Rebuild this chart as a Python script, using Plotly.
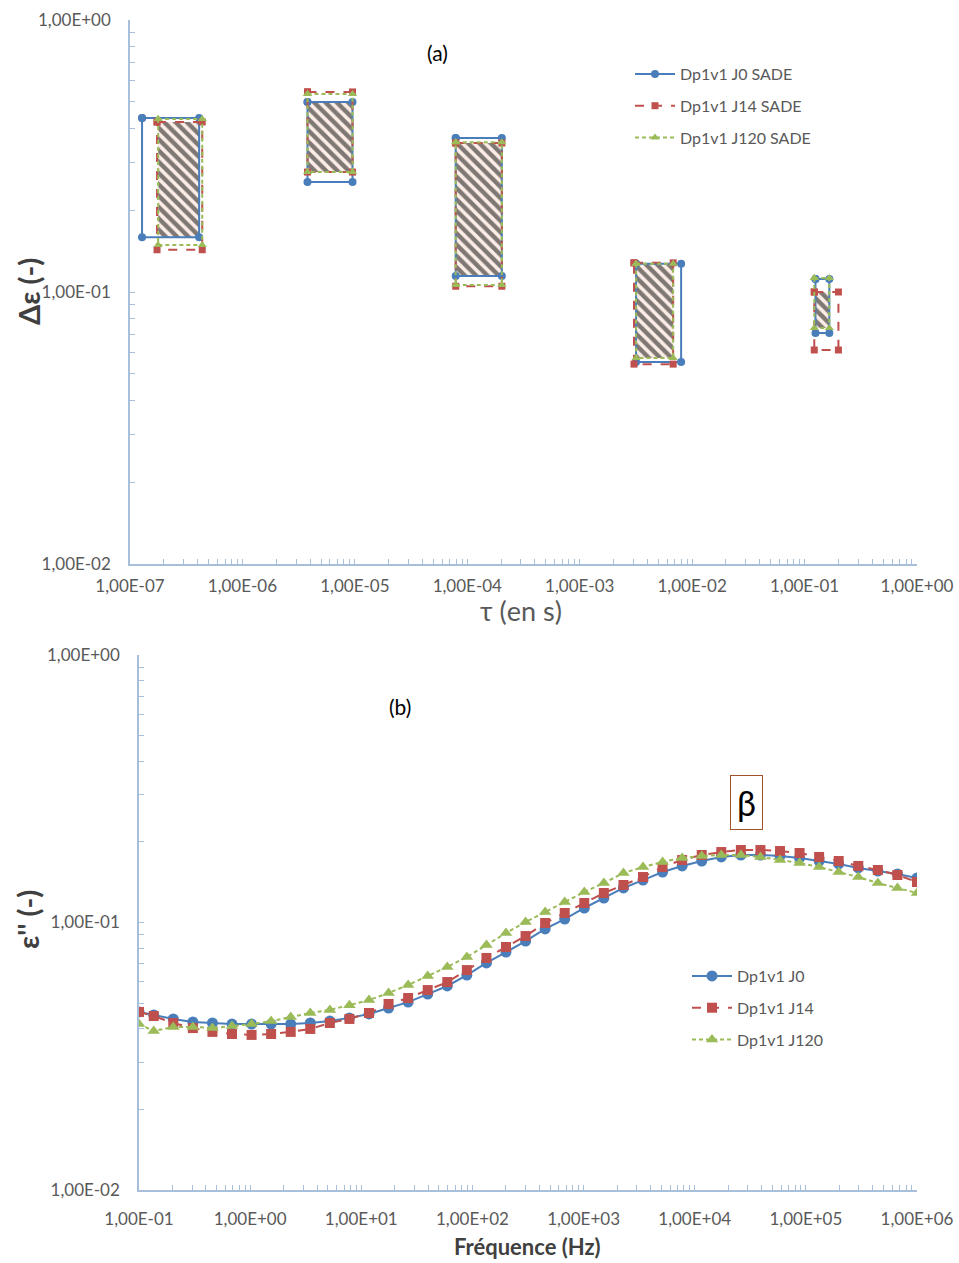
import plotly.graph_objects as go

# ---------------- Panel (a) data: relaxation boxes ----------------
series_a = ["Dp1v1 J0 SADE", "Dp1v1 J14 SADE", "Dp1v1 J120 SADE"]
tau_min_j0 = [1.28e-7, 3.79e-6, 7.89e-5, 3.17e-3, 0.125]
tau_max_j0 = [4.12e-7, 9.53e-6, 2.03e-4, 7.98e-3, 0.166]
de_min_j0 = [0.159, 0.254, 0.1145, 0.0553, 0.0707]
de_max_j0 = [0.436, 0.500, 0.368, 0.127, 0.1117]

tau_min_j14 = [1.74e-7, 3.79e-6, 7.89e-5, 3.04e-3, 0.122]
tau_max_j14 = [4.39e-7, 9.53e-6, 2.03e-4, 6.78e-3, 0.200]
de_min_j14 = [0.143, 0.276, 0.105, 0.0543, 0.0612]
de_max_j14 = [0.422, 0.544, 0.353, 0.128, 0.100]

tau_min_j120 = [1.78e-7, 3.79e-6, 7.89e-5, 3.17e-3, 0.122]
tau_max_j120 = [4.39e-7, 9.53e-6, 2.03e-4, 6.78e-3, 0.166]
de_min_j120 = [0.149, 0.276, 0.106, 0.0572, 0.0738]
de_max_j120 = [0.433, 0.535, 0.355, 0.127, 0.1126]

xa_tick_vals = [1e-7, 1e-6, 1e-5, 1e-4, 1e-3, 1e-2, 1e-1, 1e0]
xa_tick_text = ["1,00E-07", "1,00E-06", "1,00E-05", "1,00E-04", "1,00E-03", "1,00E-02", "1,00E-01", "1,00E+00"]
y_tick_vals = [1e-2, 1e-1, 1e0]
y_tick_text = ["1,00E-02", "1,00E-01", "1,00E+00"]

# ---------------- Panel (b) data: loss spectra ----------------
freq = [0.1, 0.1357, 0.2035, 0.3052, 0.4578, 0.6868, 1.030, 1.545, 2.318, 3.477,
        5.215, 7.823, 11.73, 17.60, 26.40, 39.60, 59.40, 89.10, 133.7, 200.5,
        300.7, 451.1, 676.6, 1015, 1522, 2284, 3426, 5138, 7707, 11561,
        17342, 26012, 39018, 58528, 87791, 131687, 197531, 296296, 444444, 666667, 1000000]
eps_j0 = [0.0463, 0.0451, 0.0436, 0.0425, 0.0421, 0.0417, 0.0417, 0.0417, 0.0417, 0.0421,
          0.0428, 0.0440, 0.0455, 0.0479, 0.0504, 0.0540, 0.0579, 0.0636, 0.0706, 0.0775,
          0.0852, 0.0946, 0.1030, 0.1133, 0.1234, 0.1346, 0.1441, 0.1544, 0.1627, 0.1698,
          0.1758, 0.1788, 0.1788, 0.1773, 0.1743, 0.1698, 0.1655, 0.1599, 0.1558, 0.1518, 0.1467]
eps_j14 = [0.0463, 0.0447, 0.0421, 0.0403, 0.0390, 0.0383, 0.0380, 0.0383, 0.0390, 0.0400,
           0.0421, 0.0436, 0.0459, 0.0496, 0.0522, 0.0559, 0.0599, 0.0664, 0.0737, 0.0810,
           0.0890, 0.0996, 0.1085, 0.1183, 0.1289, 0.1381, 0.1479, 0.1613, 0.1713, 0.1788,
           0.1834, 0.1866, 0.1866, 0.1850, 0.1819, 0.1758, 0.1698, 0.1627, 0.1571, 0.1505, 0.1417]
eps_j120 = [0.0417, 0.0393, 0.0407, 0.0407, 0.0403, 0.0410, 0.0417, 0.0428, 0.0443, 0.0459,
            0.0471, 0.0491, 0.0513, 0.0545, 0.0584, 0.0631, 0.0682, 0.0743, 0.0824, 0.0913,
            0.1004, 0.1095, 0.1193, 0.1300, 0.1405, 0.1531, 0.1613, 0.1684, 0.1743, 0.1773,
            0.1788, 0.1788, 0.1758, 0.1713, 0.1669, 0.1613, 0.1544, 0.1479, 0.1405, 0.1346, 0.1289]
series_b = ["Dp1v1 J0", "Dp1v1 J14", "Dp1v1 J120"]

xb_tick_vals = [1e-1, 1e0, 1e1, 1e2, 1e3, 1e4, 1e5, 1e6]
xb_tick_text = ["1,00E-01", "1,00E+00", "1,00E+01", "1,00E+02", "1,00E+03", "1,00E+04", "1,00E+05", "1,00E+06"]

# ---------------- styles ----------------
BLUE = "#4A7EBB"
RED = "#C0504D"
GREEN = "#9BBB59"
TXT = "#595959"
AXC = "#A7BFD8"
FONT = "Lato"
W, H = 959, 1263


def rect_path(tmin, tmax, dmin, dmax):
    xs, ys = [], []
    for a, b, c, d in zip(tmin, tmax, dmin, dmax):
        xs += [a, b, b, a, a, None]
        ys += [d, d, c, c, d, None]
    return xs, ys


def tick_setup(major_vals, major_text, lo, hi):
    vals = []
    for e in range(lo, hi + 1):
        for m in range(1, 10):
            if e == hi and m > 1:
                break
            vals.append(m * 10.0 ** e)
    text = []
    for v in vals:
        lab = ""
        for mv, mt in zip(major_vals, major_text):
            if abs(v - mv) / mv < 1e-9:
                lab = mt
        text.append(lab)
    return vals, text


fig = go.Figure()

# hatch = common region of the three boxes
h_tmin = [max(v) for v in zip(tau_min_j0, tau_min_j14, tau_min_j120)]
h_tmax = [min(v) for v in zip(tau_max_j0, tau_max_j14, tau_max_j120)]
h_dmin = [max(v) for v in zip(de_min_j0, de_min_j14, de_min_j120)]
h_dmax = [min(v) for v in zip(de_max_j0, de_max_j14, de_max_j120)]
hx, hy = rect_path(h_tmin, h_tmax, h_dmin, h_dmax)
fig.add_trace(go.Scatter(
    x=hx, y=hy, mode="lines", fill="toself", line=dict(width=0, color="rgba(0,0,0,0)"),
    fillcolor="#FCEEE6",
    fillpattern=dict(shape="\\", fgcolor="black", bgcolor="#FCEEE6", size=8, solidity=0.55),
    showlegend=False, hoverinfo="skip", xaxis="x", yaxis="y"))

a_specs = [
    (series_a[0], tau_min_j0, tau_max_j0, de_min_j0, de_max_j0, BLUE, "solid", "circle", 8),
    (series_a[1], tau_min_j14, tau_max_j14, de_min_j14, de_max_j14, RED, "dash", "square", 7),
    (series_a[2], tau_min_j120, tau_max_j120, de_min_j120, de_max_j120, GREEN, "4px,3px", "triangle-up", 8),
]
for name, t0, t1, d0, d1, col, dash, sym, ms in a_specs:
    xs, ys = rect_path(t0, t1, d0, d1)
    fig.add_trace(go.Scatter(
        x=xs, y=ys, mode="lines+markers", name=name, legendgroup=name,
        line=dict(color=col, width=2, dash=dash),
        marker=dict(symbol=sym, size=ms, color=col),
        xaxis="x", yaxis="y", legend="legend"))

b_specs = [
    (series_b[0], eps_j0, BLUE, "solid", "circle", 11),
    (series_b[1], eps_j14, RED, "dash", "square", 10),
    (series_b[2], eps_j120, GREEN, "4px,3px", "triangle-up", 11),
]
for name, ys, col, dash, sym, ms in b_specs:
    fig.add_trace(go.Scatter(
        x=freq, y=ys, mode="lines+markers", name=name, legendgroup=name + "b",
        line=dict(color=col, width=2, dash=dash),
        marker=dict(symbol=sym, size=ms, color=col),
        xaxis="x2", yaxis="y2", legend="legend2"))

xa_vals, xa_text = tick_setup(xa_tick_vals, xa_tick_text, -7, 0)
xb_vals, xb_text = tick_setup(xb_tick_vals, xb_tick_text, -1, 6)
ya_vals, ya_text = tick_setup(y_tick_vals, y_tick_text, -2, 0)

axis_common = dict(type="log", showgrid=False, zeroline=False, showline=True,
                   linecolor=AXC, linewidth=1.5, ticks="inside", ticklen=5,
                   tickcolor=AXC, tickfont=dict(family=FONT, size=17, color=TXT),
                   tickmode="array", mirror=False, automargin=False)

fig.update_layout(
    width=W, height=H, margin=dict(l=0, r=0, t=0, b=0, autoexpand=False),
    paper_bgcolor="white", plot_bgcolor="white",
    font=dict(family=FONT, color=TXT),
    xaxis=dict(axis_common, domain=[130 / W, 917 / W], range=[-7, 0],
               tickvals=xa_vals, ticktext=xa_text, anchor="y", ticklabelstandoff=6),
    yaxis=dict(axis_common, domain=[1 - 564 / H, 1 - 20 / H], range=[-2, 0],
               tickvals=ya_vals, ticktext=ya_text, anchor="x", ticklabelstandoff=14),
    xaxis2=dict(axis_common, domain=[139 / W, 917 / W], range=[-1, 6],
                tickvals=xb_vals, ticktext=xb_text, anchor="y2", ticklabelstandoff=13),
    yaxis2=dict(axis_common, domain=[1 - 1190 / H, 1 - 655 / H], range=[-2, 0],
                tickvals=ya_vals, ticktext=ya_text, anchor="x2", ticklabelstandoff=14),
    legend=dict(x=630 / W, y=1 - 57 / H, xanchor="left", yanchor="top",
                bgcolor="rgba(0,0,0,0)", font=dict(family=FONT, size=16, color=TXT),
                tracegroupgap=8, itemwidth=40),
    legend2=dict(x=687 / W, y=1 - 959 / H, xanchor="left", yanchor="top",
                 bgcolor="rgba(0,0,0,0)", font=dict(family=FONT, size=16, color=TXT),
                 tracegroupgap=8, itemwidth=40),
    showlegend=True,
)

ann = [
    dict(x=437 / W, y=1 - 53 / H, text="(a)", font=dict(size=21, color="black")),
    dict(x=400 / W, y=1 - 706 / H, text="(b)", font=dict(size=21, color="black")),
    dict(x=28 / W, y=1 - 292 / H, text="<b>Δε (-)</b>", textangle=-90, font=dict(size=29, color="#404040")),
    dict(x=521 / W, y=1 - 610 / H, text="τ (en s)", font=dict(size=27, color=TXT)),
    dict(x=28 / W, y=1 - 920 / H, text="<b>ε'' (-)</b>", textangle=-90, font=dict(size=29, color="#404040")),
    dict(x=527 / W, y=1 - 1246 / H, text="<b>Fréquence (Hz)</b>", font=dict(size=22, color="#404040")),
    dict(x=746 / W, y=1 - 802 / H, text="β", font=dict(size=34, color="black"),
         bordercolor="#A0522D", borderwidth=1, borderpad=6, bgcolor="white"),
]
for a in ann:
    a.update(xref="paper", yref="paper", showarrow=False, xanchor="center", yanchor="middle")
    a["font"]["family"] = FONT
fig.update_layout(annotations=ann)

fig.write_html("out.html", config={"displayModeBar": False},
               post_script="document.body.style.margin='0px';document.body.style.overflow='hidden';")
